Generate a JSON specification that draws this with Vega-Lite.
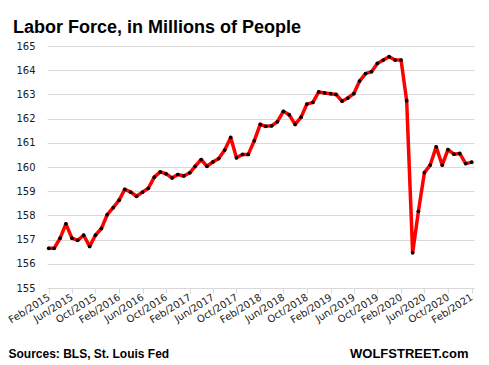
{
  "$schema": "https://vega.github.io/schema/vega-lite/v6.json",
  "autosize": "none",
  "width": 427,
  "height": 242,
  "padding": {"left": 47, "top": 46, "right": 15, "bottom": 77},
  "background": "white",
  "title": {
    "text": "Labor Force, in Millions of People",
    "anchor": "start",
    "frame": "group",
    "dx": -34,
    "dy": 24,
    "offset": 14,
    "baseline": "alphabetic",
    "font": "Liberation Sans",
    "fontSize": 18,
    "fontWeight": "bold",
    "color": "#000000"
  },
  "config": {
    "view": {"stroke": null},
    "axis": {"labelFont": "DejaVu Sans", "labelFontSize": 10, "labelColor": "#1a1a1a"}
  },
  "data": {
    "values": [
      {"d": "2015-02-01", "v": 156.64},
      {"d": "2015-03-01", "v": 156.64},
      {"d": "2015-04-01", "v": 157.06},
      {"d": "2015-05-01", "v": 157.65},
      {"d": "2015-06-01", "v": 157.06},
      {"d": "2015-07-01", "v": 156.97},
      {"d": "2015-08-01", "v": 157.18},
      {"d": "2015-09-01", "v": 156.72},
      {"d": "2015-10-01", "v": 157.18},
      {"d": "2015-11-01", "v": 157.46},
      {"d": "2015-12-01", "v": 158.03},
      {"d": "2016-01-01", "v": 158.32},
      {"d": "2016-02-01", "v": 158.63},
      {"d": "2016-03-01", "v": 159.08},
      {"d": "2016-04-01", "v": 158.96},
      {"d": "2016-05-01", "v": 158.79},
      {"d": "2016-06-01", "v": 158.96},
      {"d": "2016-07-01", "v": 159.12},
      {"d": "2016-08-01", "v": 159.58},
      {"d": "2016-09-01", "v": 159.80},
      {"d": "2016-10-01", "v": 159.72},
      {"d": "2016-11-01", "v": 159.55},
      {"d": "2016-12-01", "v": 159.69},
      {"d": "2017-01-01", "v": 159.63},
      {"d": "2017-02-01", "v": 159.76},
      {"d": "2017-03-01", "v": 160.03},
      {"d": "2017-04-01", "v": 160.31},
      {"d": "2017-05-01", "v": 160.03},
      {"d": "2017-06-01", "v": 160.21},
      {"d": "2017-07-01", "v": 160.35},
      {"d": "2017-08-01", "v": 160.70},
      {"d": "2017-09-01", "v": 161.22},
      {"d": "2017-10-01", "v": 160.38},
      {"d": "2017-11-01", "v": 160.52},
      {"d": "2017-12-01", "v": 160.52},
      {"d": "2018-01-01", "v": 161.08},
      {"d": "2018-02-01", "v": 161.76},
      {"d": "2018-03-01", "v": 161.68},
      {"d": "2018-04-01", "v": 161.70},
      {"d": "2018-05-01", "v": 161.87},
      {"d": "2018-06-01", "v": 162.30},
      {"d": "2018-07-01", "v": 162.16},
      {"d": "2018-08-01", "v": 161.76},
      {"d": "2018-09-01", "v": 162.06},
      {"d": "2018-10-01", "v": 162.60},
      {"d": "2018-11-01", "v": 162.67},
      {"d": "2018-12-01", "v": 163.10},
      {"d": "2019-01-01", "v": 163.06},
      {"d": "2019-02-01", "v": 163.03},
      {"d": "2019-03-01", "v": 163.00},
      {"d": "2019-04-01", "v": 162.72},
      {"d": "2019-05-01", "v": 162.85},
      {"d": "2019-06-01", "v": 163.03},
      {"d": "2019-07-01", "v": 163.55},
      {"d": "2019-08-01", "v": 163.86},
      {"d": "2019-09-01", "v": 163.94},
      {"d": "2019-10-01", "v": 164.28},
      {"d": "2019-11-01", "v": 164.42},
      {"d": "2019-12-01", "v": 164.56},
      {"d": "2020-01-01", "v": 164.42},
      {"d": "2020-02-01", "v": 164.42},
      {"d": "2020-03-01", "v": 162.74},
      {"d": "2020-04-01", "v": 156.46},
      {"d": "2020-05-01", "v": 158.17},
      {"d": "2020-06-01", "v": 159.77},
      {"d": "2020-07-01", "v": 160.08},
      {"d": "2020-08-01", "v": 160.83},
      {"d": "2020-09-01", "v": 160.08},
      {"d": "2020-10-01", "v": 160.72},
      {"d": "2020-11-01", "v": 160.53},
      {"d": "2020-12-01", "v": 160.56},
      {"d": "2021-01-01", "v": 160.14},
      {"d": "2021-02-01", "v": 160.20}
    ]
  },
  "encoding": {
    "x": {
      "field": "d",
      "type": "temporal",
      "scale": {
        "type": "utc",
        "domain": [
          {"year": 2015, "month": 1, "date": 23, "utc": true},
          {"year": 2021, "month": 2, "date": 13, "utc": true}
        ]
      },
      "axis": {
        "title": "Sources: BLS, St. Louis Fed",
        "titleFont": "Liberation Sans",
        "titleFontSize": 12,
        "titleFontWeight": "bold",
        "titleColor": "#000000",
        "titleAnchor": "start",
        "titleAlign": "left",
        "titleBaseline": "alphabetic",
        "titleX": -39,
        "titleY": 69,
        "values": [
          {"year": 2015, "month": 2, "date": 1, "utc": true},
          {"year": 2015, "month": 6, "date": 1, "utc": true},
          {"year": 2015, "month": 10, "date": 1, "utc": true},
          {"year": 2016, "month": 2, "date": 1, "utc": true},
          {"year": 2016, "month": 6, "date": 1, "utc": true},
          {"year": 2016, "month": 10, "date": 1, "utc": true},
          {"year": 2017, "month": 2, "date": 1, "utc": true},
          {"year": 2017, "month": 6, "date": 1, "utc": true},
          {"year": 2017, "month": 10, "date": 1, "utc": true},
          {"year": 2018, "month": 2, "date": 1, "utc": true},
          {"year": 2018, "month": 6, "date": 1, "utc": true},
          {"year": 2018, "month": 10, "date": 1, "utc": true},
          {"year": 2019, "month": 2, "date": 1, "utc": true},
          {"year": 2019, "month": 6, "date": 1, "utc": true},
          {"year": 2019, "month": 10, "date": 1, "utc": true},
          {"year": 2020, "month": 2, "date": 1, "utc": true},
          {"year": 2020, "month": 6, "date": 1, "utc": true},
          {"year": 2020, "month": 10, "date": 1, "utc": true},
          {"year": 2021, "month": 2, "date": 1, "utc": true}
        ],
        "format": "%b/%Y",
        "grid": false,
        "domainColor": "#d9d9d9",
        "tickColor": "#d9d9d9",
        "tickSize": 5,
        "labelAngle": -32,
        "labelAlign": "right",
        "labelBaseline": "middle",
        "labelPadding": 3,
        "labelFlush": false,
        "labelOverlap": false
      }
    },
    "y": {
      "field": "v",
      "type": "quantitative",
      "scale": {"domain": [155, 165], "nice": false, "zero": false},
      "axis": {
        "title": "WOLFSTREET.com",
        "titleFont": "Liberation Sans",
        "titleFontSize": 13,
        "titleFontWeight": "bold",
        "titleColor": "#000000",
        "titleAngle": 0,
        "titleAlign": "right",
        "titleBaseline": "alphabetic",
        "titleAnchor": null,
        "titleX": 421,
        "titleY": 311,
        "values": [155, 156, 157, 158, 159, 160, 161, 162, 163, 164, 165],
        "domain": false,
        "ticks": false,
        "tickSize": 0,
        "labelPadding": 12,
        "gridColor": "#d9d9d9",
        "gridWidth": 1
      }
    }
  },
  "layer": [
    {"mark": {"type": "line", "color": "#ff0000", "strokeWidth": 3.5, "strokeJoin": "round", "strokeCap": "round"}},
    {"mark": {"type": "point", "filled": true, "color": "#000000", "size": 14, "opacity": 1}}
  ]
}
